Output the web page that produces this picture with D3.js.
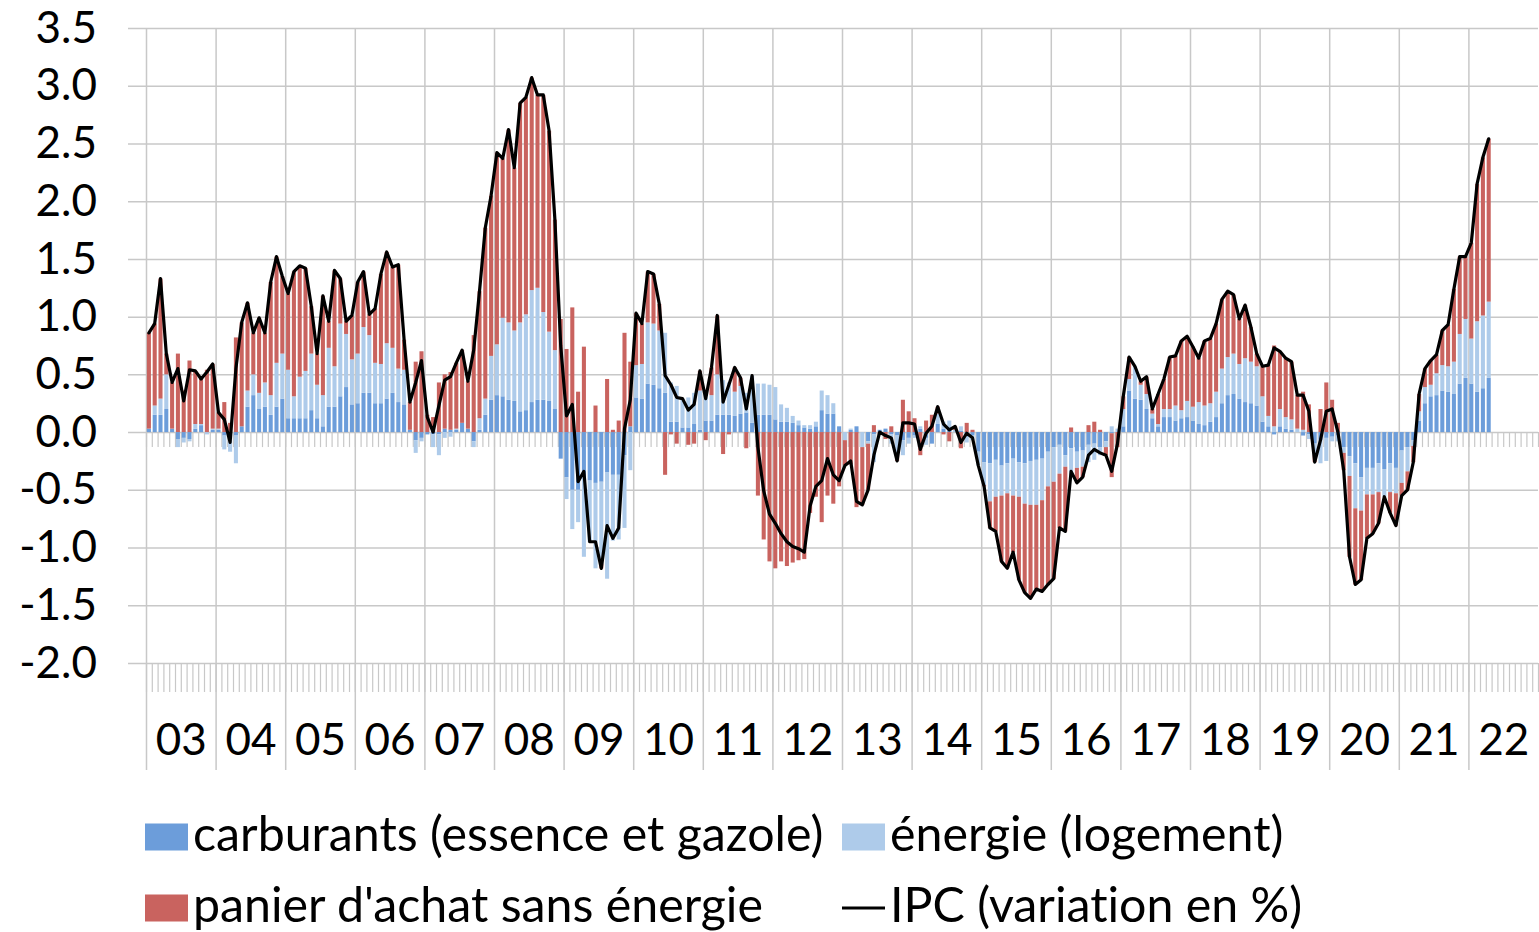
<!DOCTYPE html>
<html><head><meta charset="utf-8">
<script src="https://cdn.jsdelivr.net/npm/d3@7"></script>
<style>
body{margin:0;background:#fff}
svg{display:block}
text{font-family:Lato,"Open Sans",sans-serif;fill:#000;font-variant-ligatures:none;font-feature-settings:"liga" 0,"clig" 0}
</style>
</head><body>
<svg id="c" width="1539" height="932"></svg>
<script>
// ---- data (monthly, Jan 2003 – Apr 2022) ----
const years = ["03","04","05","06","07","08","09","10","11","12","13","14","15","16","17","18","19","20","21","22"];
const yTickValues = [-2,-1.5,-1,-0.5,0,0.5,1,1.5,2,2.5,3,3.5];
const yTickLabels = ["-2.0","-1.5","-1.0","-0.5","0.0","0.5","1.0","1.5","2.0","2.5","3.0","3.5"];
const seriesNames = ["carburants (essence et gazole)","énergie (logement)","panier d'achat sans énergie","IPC (variation en %)"];

const carburants = [
 .03,.15,.15,.20,.03,-.06,-.05,-.06,.03,.06,0,.02,
 .02,-.03,-.06,-.03,.05,.22,.32,.20,.22,.15,.22,.29,
 .12,.12,.12,.12,.19,.12,.05,.22,.22,.31,.39,.24,
 .25,.34,.34,.25,.25,.29,.34,.26,.24,.02,-.07,-.05,
 -.02,-.02,-.02,.03,.02,.02,.08,.03,-.08,.02,.15,.28,
 .32,.31,.28,.27,.18,.19,.26,.28,.28,.27,.20,-.23,
 -.39,-.50,-.50,-.39,-.42,-.44,-.43,-.35,-.37,-.37,-.20,.05,
 .30,.29,.42,.41,.38,.34,.09,.09,.04,.04,.07,.02,
 .10,.10,.15,.15,.15,.14,.16,.17,.08,.15,.15,.15,
 .11,.09,.09,.08,.06,.04,.03,.05,.19,.16,.16,.05,
 0,.02,.05,0,-.08,-.02,.02,.03,-.02,-.03,-.07,-.05,
 -.03,.03,-.05,-.10,.07,.03,.02,0,.01,-.04,-.03,-.17,
 -.26,-.27,-.24,-.29,-.27,-.23,-.26,-.27,-.25,-.24,-.23,-.17,
 -.13,-.11,-.20,-.14,-.17,-.16,-.11,-.10,-.13,-.08,-.01,0,
 .05,.36,.29,.28,.20,.12,.05,.13,.13,.10,.12,.13,
 .10,.07,.06,.09,.13,.25,.32,.33,.29,.26,.25,.23,
 .09,.05,-.02,.05,.03,.02,0,-.03,-.02,-.10,-.07,-.05,
 -.04,-.03,-.13,-.21,-.27,-.39,-.31,-.31,-.27,-.32,-.27,-.31,
 -.16,-.13,-.07,.10,.25,.31,.32,.36,.35,.33,.42,.47,
 .42,.35,.38,.47];

const energie = [
 0,.08,.14,.30,0,-.07,-.04,-.02,.04,.01,-.02,.01,
 .01,-.12,-.11,-.24,0,.14,.18,.14,.21,.17,.38,.39,
 .42,.19,.36,.41,.49,.29,.27,.51,.35,.63,.46,.39,
 .43,.57,.50,.35,.34,.48,.39,.29,.30,0,-.11,-.03,
 0,-.11,-.18,-.05,-.04,.01,0,0,-.05,.10,.14,.38,
 .44,.68,.67,.61,.77,.83,.97,.97,.76,.60,.51,0,
 -.19,-.34,-.28,-.69,-.53,-.74,-.71,-.92,-.57,-.56,-.63,-.33,
 .28,.30,.53,.53,.50,.52,.34,.31,.25,.26,.27,.34,
 .26,.22,.35,.30,.28,.21,.24,.17,.41,.27,.27,.26,
 .28,.15,.12,.06,.04,.02,.03,.04,.17,.16,.09,0,
 -.07,.01,0,-.13,-.02,-.24,0,0,-.08,-.17,-.13,-.05,
 -.02,.02,-.06,0,.09,.06,.08,.02,.04,-.05,-.04,-.12,
 -.20,-.33,-.32,-.26,-.26,-.32,-.30,-.35,-.38,-.39,-.36,-.30,
 -.30,-.25,-.10,-.24,-.14,-.14,-.15,-.14,-.07,-.05,.05,.03,
 .15,.10,.28,.13,.13,.04,.02,.07,.07,.13,.07,.14,
 .12,.19,.17,.16,.22,.30,.33,.35,.30,.38,.36,.34,
 .22,.09,.05,.15,.10,.09,.03,.02,-.04,-.10,-.20,-.20,
 -.04,-.05,-.05,-.17,-.39,-.29,-.23,-.23,-.25,-.24,-.25,-.22,
 -.28,-.21,-.05,.08,.14,.10,.19,.22,.22,.28,.43,.51,
 .39,.61,.63,.66];

const panier = [
 .83,.71,1.04,.18,.40,.68,.36,.62,.46,.39,.54,.56,
 .14,.26,.08,.82,.90,.76,.36,.65,.43,.98,.92,.67,
 .66,1.08,.96,.89,.41,.27,.86,.23,.83,.39,.11,.38,
 .62,.48,.18,.47,.78,.79,.70,.90,.26,.24,.61,.70,
 .15,.13,.43,.47,.50,.57,.63,.41,.84,1.10,1.48,1.39,
 1.66,1.38,1.67,1.41,1.90,1.88,1.84,1.67,1.88,1.74,1.13,.98,
 .72,1.08,.35,.74,0,.23,-.04,.46,.02,.10,.86,.56,
 .45,.35,.44,.43,.23,-.37,-.02,-.10,0,-.11,-.10,.17,
 -.07,.24,.51,-.19,-.02,.21,.07,-.14,0,-.55,-.93,-1.12,
 -1.18,-1.12,-1.16,-1.13,-1.11,-1.10,-.70,-.56,-.78,-.55,-.62,-.47,
 -.22,-.28,-.65,-.50,-.40,.06,-.02,-.06,.05,-.05,.28,.18,
 .12,-.20,.10,.15,.06,-.02,-.08,.03,-.14,.08,.02,0,
 -.01,-.23,-.30,-.57,-.65,-.49,-.72,-.77,-.81,-.73,-.79,-.85,
 -.84,-.47,-.56,.04,-.13,-.09,.06,.09,.02,-.07,-.38,-.13,
 .11,.19,0,.03,.15,.04,.26,.26,.45,.43,.60,.56,
 .52,.38,.56,.56,.59,.60,.57,.51,.39,.46,.30,.11,
 .26,.44,.70,.50,.51,.50,.29,.33,.24,-.06,.20,.43,
 .28,.08,-.15,-.70,-.66,-.60,-.38,-.34,-.27,0,-.18,-.28,
 -.11,-.16,-.14,.15,.16,.21,.16,.30,.36,.63,.67,.54,
 .83,1.19,1.37,1.41];

const ipc = [
 .86,.94,1.33,.68,.43,.55,.27,.54,.53,.46,.52,.59,
 .17,.11,-.09,.55,.95,1.12,.86,.99,.86,1.30,1.52,1.35,
 1.20,1.39,1.44,1.42,1.09,.68,1.18,.96,1.40,1.33,.96,1.01,
 1.30,1.39,1.02,1.07,1.37,1.56,1.43,1.45,.80,.26,.43,.62,
 .13,0,.23,.45,.48,.60,.71,.44,.71,1.22,1.77,2.05,
 2.42,2.37,2.62,2.29,2.85,2.90,3.07,2.92,2.92,2.61,1.84,.75,
 .14,.24,-.43,-.34,-.95,-.95,-1.18,-.81,-.92,-.83,.03,.28,
 1.03,.94,1.39,1.37,1.11,.49,.41,.30,.29,.19,.24,.53,
 .29,.56,1.01,.26,.41,.56,.47,.20,.49,-.13,-.51,-.71,
 -.79,-.88,-.95,-.99,-1.01,-1.04,-.64,-.47,-.42,-.23,-.37,-.42,
 -.29,-.25,-.60,-.63,-.50,-.20,0,-.03,-.05,-.25,.08,.08,
 .07,-.15,-.01,.05,.22,.07,.02,.05,-.09,-.01,-.05,-.29,
 -.47,-.83,-.86,-1.12,-1.18,-1.04,-1.28,-1.39,-1.44,-1.36,-1.38,-1.32,
 -1.27,-.83,-.86,-.34,-.44,-.39,-.20,-.15,-.18,-.20,-.34,-.10,
 .31,.65,.57,.44,.48,.20,.33,.46,.65,.66,.79,.83,
 .74,.64,.79,.81,.94,1.15,1.22,1.19,.98,1.10,.91,.68,
 .57,.58,.73,.70,.64,.61,.32,.32,.18,-.26,-.07,.18,
 .20,0,-.33,-1.08,-1.32,-1.28,-.92,-.88,-.79,-.56,-.70,-.81,
 -.55,-.50,-.26,.33,.55,.62,.67,.88,.93,1.24,1.52,1.52,
 1.64,2.15,2.38,2.54];

const colors = {c:"#6c9dda", e:"#aecbea", p:"#c9635f", line:"#000000", grid:"#c8c8c8"};

// ---- layout ----
const L = 146, R = 1538, T = 28, B = 663;
const nCat = years.length * 12;
const svg = d3.select("#c");

const x = d3.scaleBand().domain(d3.range(nCat)).range([L, R]).paddingInner(0.3).paddingOuter(0.15);
const xl = d3.scaleLinear().domain([0, nCat]).range([L, R]);
const y = d3.scaleLinear().domain([-2, 3.5]).range([B, T]);

const rows = ipc.map((v, i) => ({i, c: carburants[i], e: energie[i], p: panier[i], ipc: v}));

// horizontal gridlines + y labels
const gy = svg.append("g").attr("transform", `translate(${R},0)`)
  .call(d3.axisLeft(y).tickValues(yTickValues).tickSize(R - 128).tickPadding(31)
    .tickFormat((d, k) => yTickLabels[k]));
gy.select(".domain").remove();
gy.selectAll("line").attr("stroke", colors.grid).attr("stroke-width", 1.5);
gy.selectAll("text").style("font-size", "44px").attr("fill", "#000");

// vertical year gridlines (extend below the plot)
const yearStarts = d3.range(0, nCat, 12);
const gv = svg.append("g").attr("transform", `translate(0,770)`)
  .call(d3.axisBottom(xl).tickValues(yearStarts).tickSize(-(770 - T)).tickFormat(""));
gv.select(".domain").remove();
gv.selectAll("line").attr("stroke", colors.grid).attr("stroke-width", 1.5);

// category ticks on the bottom axis
const gb = svg.append("g").attr("transform", `translate(0,${B})`)
  .call(d3.axisBottom(xl).tickValues(d3.range(nCat + 1)).tickSize(29).tickFormat(""));
gb.select(".domain").remove();
gb.selectAll("line").attr("stroke", colors.grid).attr("stroke-width", 1.2);

// category ticks on the zero line
const gz = svg.append("g").attr("transform", `translate(0,${y(0)})`)
  .call(d3.axisBottom(xl).tickValues(d3.range(nCat + 1)).tickSize(15).tickFormat(""));
gz.select(".domain").remove();
gz.selectAll("line").attr("stroke", colors.grid).attr("stroke-width", 1.2);

// year labels
const yearCenters = years.map((_, k) => k * 12 + 6);
const gyl = svg.append("g").attr("transform", `translate(0,${B})`)
  .call(d3.axisBottom(xl).tickValues(yearCenters).tickSize(0).tickFormat((d, k) => years[k]));
gyl.select(".domain").remove();
gyl.selectAll("text").style("font-size", "44px").attr("y", 755 - B).attr("dy", 0);

// stacked bars (positive and negative stacked separately)
const stack = d3.stack().keys(["c", "e", "p"]).offset(d3.stackOffsetDiverging);
const layers = stack(rows);
const fillOf = {c: colors.c, e: colors.e, p: colors.p};
svg.append("g").selectAll("g").data(layers).join("g")
  .attr("fill", d => fillOf[d.key])
  .selectAll("rect").data(d => d).join("rect")
  .attr("x", d => x(d.data.i))
  .attr("width", x.bandwidth())
  .attr("y", d => y(Math.max(d[0], d[1])))
  .attr("height", d => Math.abs(y(d[0]) - y(d[1])));

// IPC line
const line = d3.line().x(d => x(d.i) + x.bandwidth() / 2).y(d => y(d.ipc));
svg.append("path").datum(rows).attr("d", line)
  .attr("fill", "none").attr("stroke", colors.line).attr("stroke-width", 3.2)
  .attr("stroke-linejoin", "round").attr("stroke-linecap", "round");

// legend
const lg = svg.append("g");
const legendItems = [
  {name: seriesNames[0], type: "rect", color: colors.c, x: 145, y: 837},
  {name: seriesNames[1], type: "rect", color: colors.e, x: 842, y: 837},
  {name: seriesNames[2], type: "rect", color: colors.p, x: 145, y: 908},
  {name: seriesNames[3], type: "line", color: colors.line, x: 842, y: 908}
];
legendItems.forEach(it => {
  if (it.type === "rect") {
    lg.append("rect").attr("x", it.x).attr("y", it.y - 13.5).attr("width", 43).attr("height", 27).attr("fill", it.color);
  } else {
    lg.append("line").attr("x1", it.x).attr("x2", it.x + 43).attr("y1", it.y).attr("y2", it.y)
      .attr("stroke", it.color).attr("stroke-width", 3);
  }
  lg.append("text").attr("class", "lt").attr("x", it.x + 48).attr("y", it.y + 14).text(it.name);
});
// fit legend font so the first label spans its width in the reference
const lt = lg.selectAll("text.lt").style("font-size", "40px");
const w0 = lt.nodes()[0].getComputedTextLength();
const fs = 40 * 630 / w0;
lt.style("font-size", fs.toFixed(1) + "px");
</script>
</body></html>
